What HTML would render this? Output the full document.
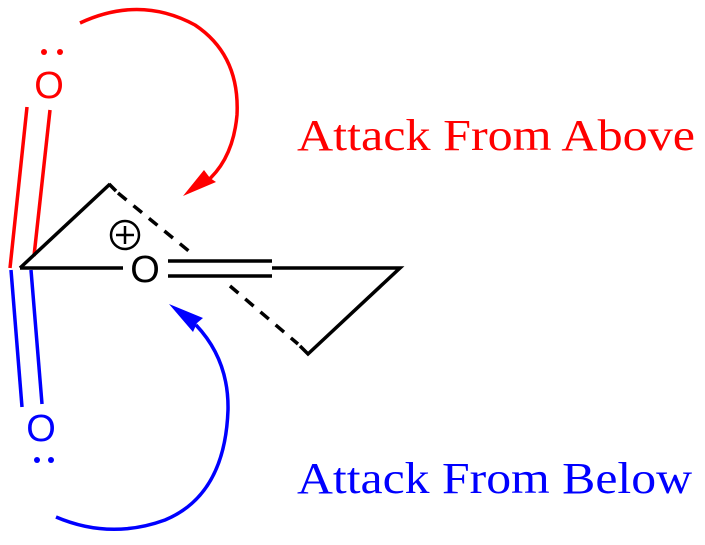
<!DOCTYPE html>
<html><head><style>
html,body{margin:0;padding:0;background:#fff}
svg{display:block}
</style></head><body>
<svg width="705" height="545" viewBox="0 0 705 545" xmlns="http://www.w3.org/2000/svg">
<g stroke-width="3.5" fill="none" stroke-linecap="butt">
<!-- red -->
<path d="M80 23 Q140 -5 195 25 Q240 55 237 115 Q233 160 205 183" stroke="#f00"/>
<polygon points="183,196 204,170 210,178 216,182" fill="#f00" stroke="none"/>
<line x1="10" y1="268" x2="27" y2="107" stroke="#f00"/>
<line x1="34" y1="256" x2="50" y2="110" stroke="#f00"/>
<!-- black -->
<line x1="20" y1="268" x2="110" y2="184" stroke="#000"/>
<line x1="109" y1="184" x2="116" y2="191" stroke="#000"/>
<line x1="118" y1="193" x2="190" y2="252" stroke="#000" stroke-dasharray="11,9"/>
<line x1="20" y1="268" x2="123" y2="268" stroke="#000"/>
<line x1="168" y1="261" x2="272" y2="261" stroke="#000"/>
<line x1="168" y1="276" x2="272" y2="276" stroke="#000"/>
<polyline points="272,268 400,268 308,354 300,346" stroke="#000"/>
<line x1="230" y1="286" x2="298" y2="344" stroke="#000" stroke-dasharray="11,9"/>
<circle cx="125" cy="235" r="14" stroke="#000" stroke-width="2.5"/>
<line x1="116" y1="235" x2="134" y2="235" stroke="#000" stroke-width="2.5"/>
<line x1="125" y1="226" x2="125" y2="244" stroke="#000" stroke-width="2.5"/>
<!-- blue -->
<line x1="11" y1="270" x2="22" y2="407" stroke="#00f"/>
<line x1="31" y1="270" x2="42" y2="404" stroke="#00f"/>
<path d="M56 517 Q110 540 165 520 Q225 495 228 410 Q229 360 196 325" stroke="#00f"/>
<polygon points="169,304 203,318 197,323 193,332" fill="#00f" stroke="none"/>
</g>
<g font-family="Liberation Sans, sans-serif" font-size="38" text-anchor="middle">
<text x="49" y="98" fill="#f00">O</text>
<text x="145" y="282" fill="#000">O</text>
<text x="41" y="441" fill="#00f">O</text>
</g>
<circle cx="44" cy="52" r="3" fill="#f00"/><circle cx="60" cy="52" r="3" fill="#f00"/>
<circle cx="37" cy="460" r="3" fill="#00f"/><circle cx="51" cy="460" r="3" fill="#00f"/>
<g font-family="Liberation Serif, serif" font-size="44">
<text x="297" y="150" fill="#f00" textLength="398" lengthAdjust="spacingAndGlyphs">Attack From Above</text>
<text x="297" y="493" fill="#00f" textLength="395" lengthAdjust="spacingAndGlyphs">Attack From Below</text>
</g>
</svg>
</body></html>
